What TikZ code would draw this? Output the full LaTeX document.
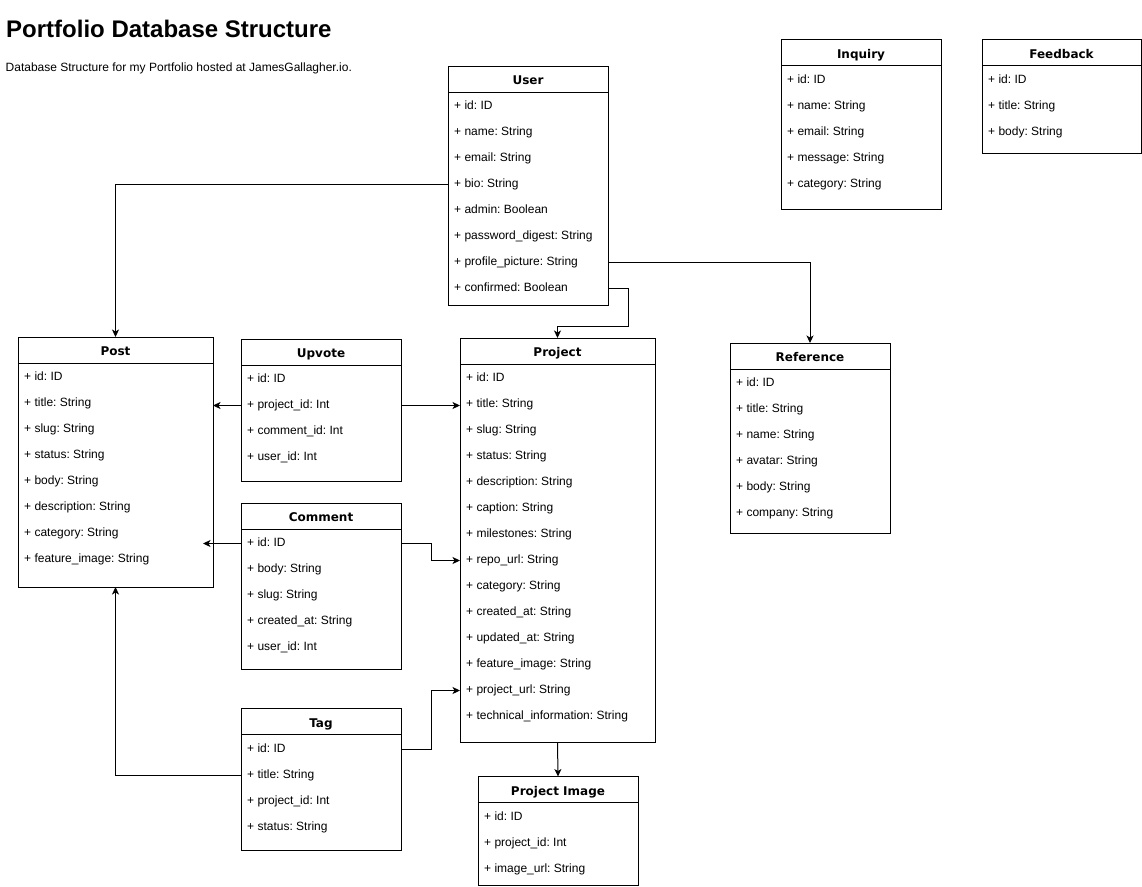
\documentclass[tikz,border=0pt]{standalone}
\usepackage{fontspec}
\setmainfont{Liberation Sans}
\newfontfamily\hdrfont{DejaVu Sans}
\usetikzlibrary{arrows.meta}
\frenchspacing
\tikzset{
  tbl/.style={draw=black, line width=1pt, fill=white, inner sep=0pt, outer sep=0pt, anchor=north west},
  hdr/.style={font=\hdrfont\bfseries\fontsize{12}{14}\selectfont, inner sep=0pt, text height=9pt, text depth=2pt},
  rowtxt/.style={font=\fontsize{12}{14}\selectfont, inner sep=0pt, anchor=west, text height=9pt, text depth=3pt},
  divider/.style={draw=black, line width=1pt},
  link/.style={draw=black, line width=1pt, -{Stealth[length=7.5pt,width=7pt,inset=2pt]}},
}
% name, x, top, width, height, title, rows
\newcommand{\dbtable}[7]{%
  \node[tbl, minimum width=#4pt, minimum height=#5pt] (#1) at (#2,#3) {};
  \draw[divider] ([yshift=-26pt]#1.north west) -- ([yshift=-26pt]#1.north east);
  \node[hdr] (#1-h) at ([yshift=-15pt]#1.north) {#6};
  \foreach \r [count=\i] in {#7} {
    \node[rowtxt] (#1-\i) at ([xshift=6pt,yshift={-(14.5+26*\i)*1pt}]#1.north west) {\frenchspacing\r};
  }
}
\begin{document}
\begin{tikzpicture}[x=1pt,y=-1pt]
\useasboundingbox (0,0) rectangle (1142,886);
\node[anchor=base west, font=\bfseries\fontsize{24}{28}\selectfont, inner sep=0pt] (title) at (6,37) {Portfolio Database Structure};
\node[anchor=base west, font=\fontsize{12}{14}\selectfont, inner sep=0pt] (subtitle) at (5.5,71) {\frenchspacing Database Structure for my Portfolio hosted at JamesGallagher.io.};

\dbtable{user}{448}{66}{160}{239}{User}{+ id: ID, + name: String, + email: String, + bio: String, + admin: Boolean, + password\_digest: String, + profile\_picture: String, + confirmed: Boolean}
\dbtable{inquiry}{781}{39.5}{160}{170}{Inquiry}{+ id: ID, + name: String, + email: String, + message: String, + category: String}
\dbtable{feedback}{982}{39.5}{159}{114}{Feedback}{+ id: ID, + title: String, + body: String}
\dbtable{post}{18}{337}{195}{250}{Post}{+ id: ID, + title: String, + slug: String, + status: String, + body: String, + description: String, + category: String, + feature\_image: String}
\dbtable{upvote}{241}{339}{160}{142}{Upvote}{+ id: ID, + project\_id: Int, + comment\_id: Int, + user\_id: Int}
\dbtable{comment}{241}{503}{160}{166}{Comment}{+ id: ID, + body: String, + slug: String, + created\_at: String, + user\_id: Int}
\dbtable{tag}{241}{708.5}{160}{141.5}{Tag}{+ id: ID, + title: String, + project\_id: Int, + status: String}
\dbtable{project}{460}{338}{195}{404}{Project}{+ id: ID, + title: String, + slug: String, + status: String, + description: String, + caption: String, + milestones: String, + repo\_url: String, + category: String, + created\_at: String, + updated\_at: String, + feature\_image: String, + project\_url: String, + technical\_information: String}
\dbtable{projimg}{478}{776.5}{160}{108.5}{Project Image}{+ id: ID, + project\_id: Int, + image\_url: String}
\dbtable{reference}{730}{343}{160}{190}{Reference}{+ id: ID, + title: String, + name: String, + avatar: String, + body: String, + company: String}

% connectors
\draw[link] (user.west |- user-4) -| (post.north);
\draw[link] (user.east |- user-7) -| (reference.north);
\draw[link] (user.east |- user-8) -- ++(20,0) |- ([yshift=12pt]project.north) -- (project.north);
\draw[link] (upvote.west |- upvote-2) -- (post.east |- upvote-2);
\draw[link] (upvote.east |- upvote-2) -- (project.west |- upvote-2);
\draw[link] (comment.west |- comment-1) -- ([xshift=-10pt]post.east |- comment-1);
\draw[link] (comment.east |- comment-1) -- ++(30,0) |- (project.west |- project-8);
\draw[link] (tag.west |- tag-2) -| (post.south);
\draw[link] (tag.east |- tag-1) -- ++(30,0) |- (project.west |- project-13);
\draw[link] (project.south) -- (projimg.north);
\end{tikzpicture}
\end{document}
